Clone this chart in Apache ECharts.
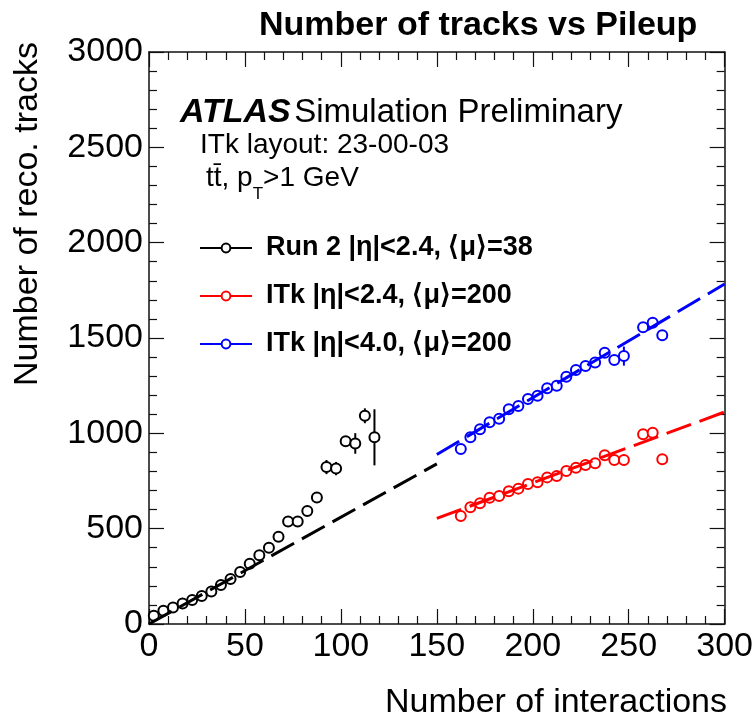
<!DOCTYPE html>
<html>
<head>
<meta charset="utf-8">
<script src="https://cdn.jsdelivr.net/npm/echarts@6/dist/echarts.min.js"></script>
<style>html,body{margin:0;padding:0;background:#fff}#chart{width:756px;height:724px}</style>
</head>
<body>
<div id="chart"></div>
<script>
// ---- data ----
const run2X = [2.5,7.5,12.5,17.5,22.5,27.5,32.5,37.5,42.5,47.5,52.5,57.5,62.5,67.5,72.5,77.5,82.5,87.5,92.5,97.5,102.5,107.5,112.5,117.5];
const run2Y = [43,70,87,108,126,147,171,205,236,273,316,360,400,458,537,537,593,664,823,815,958,947,1092,979];
const run2Err = [0,0,0,0,0,0,0,0,0,0,0,0,0,0,0,0,0,0,37,35,26,54,39,147];

const itkX = [162.5,167.5,172.5,177.5,182.5,187.5,192.5,197.5,202.5,207.5,212.5,217.5,222.5,227.5,232.5,237.5,242.5,247.5,257.5,262.5,267.5];
const itk24Y = [566,612,633,662,671,696,710,734,743,769,776,802,820,834,843,885,860,860,995,1003,864];
const itk24Err = [0,0,0,0,0,0,0,0,0,0,0,0,0,0,0,0,0,30,0,0,0];
const itk40Y = [918,979,1021,1058,1077,1126,1143,1180,1197,1236,1250,1297,1332,1353,1372,1423,1384,1405,1556,1580,1515];
const itk40Err = [0,0,0,0,0,0,0,0,0,0,0,0,0,0,0,0,0,50,0,0,0];

const fitRun2X = [0,150], fitRun2Y = [0,840];
const fitItk24X = [150,300], fitItk24Y = [554,1112];
const fitItk40X = [150,300], fitItk40Y = [889,1783];

const names = ['Run 2 |η|<2.4, ⟨μ⟩=38','ITk |η|<2.4, ⟨μ⟩=200','ITk |η|<4.0, ⟨μ⟩=200'];
const colors = ['#000000','#ff0000','#0000ff'];
const xTicks = {min:0,max:300,interval:50};
const yTicks = {min:0,max:3000,interval:500};

const FONT = 'Liberation Sans, Arial, Helvetica, sans-serif';
const zip = (a,b) => a.map((v,i)=>[v,b[i]]);
const zip3 = (a,b,c) => a.map((v,i)=>[v,b[i],c[i]]);

function pointSeries(name, xs, ys, color){
  return {name, type:'line', data: zip(xs,ys), symbol:'emptyCircle', symbolSize:10, showAllSymbol:true,
    itemStyle:{color, borderColor:color, borderWidth:1.5}, lineStyle:{color, width:2, opacity:0},
    z:3, animation:false, silent:true};
}
function errSeries(xs, ys, es, color){
  return {type:'custom', data: zip3(xs,ys,es).filter(d=>d[2]>0), z:2, animation:false, silent:true,
    renderItem:(params, api)=>{
      const p1 = api.coord([api.value(0), api.value(1)-api.value(2)]);
      const p2 = api.coord([api.value(0), api.value(1)+api.value(2)]);
      return {type:'line', shape:{x1:p1[0],y1:p1[1],x2:p2[0],y2:p2[1]}, style:{stroke:color, lineWidth:2}};
    }};
}
function fitSeries(xs, ys, color){
  return {type:'line', data: zip(xs,ys), symbol:'none', z:4, animation:false, silent:true,
    lineStyle:{color, width:3, type:[26,9]}};
}

const axisCommon = (showLabel) => ({
  axisLine:{show:true, onZero:false, lineStyle:{color:'#111', width:1.5}},
  axisTick:{show:true, inside:true, length:15, lineStyle:{color:'#111', width:1.2}},
  minorTick:{show:true, splitNumber:5, length:8, lineStyle:{color:'#111', width:1.2}},
  splitLine:{show:false}, minorSplitLine:{show:false},
  axisLabel:{show:showLabel, color:'#000', fontFamily:FONT, fontSize:34, margin:6, formatter:v=>String(v)}
});

const chart = echarts.init(document.getElementById('chart'), null, {renderer:'canvas'});
chart.setOption({
  backgroundColor:'#fff',
  animation:false,
  title:{text:'Number of tracks vs Pileup', left:254, top:4,
    textStyle:{fontFamily:FONT, fontWeight:'bold', fontSize:34, color:'#000'}},
  grid:{left:149, right:29, top:52, bottom:100, containLabel:false},
  xAxis:[
    Object.assign({type:'value', position:'bottom'}, xTicks, axisCommon(true)),
    Object.assign({type:'value', position:'top'}, xTicks, axisCommon(false))
  ],
  yAxis:[
    Object.assign({type:'value', position:'left'}, yTicks, axisCommon(true)),
    Object.assign({type:'value', position:'right'}, yTicks, axisCommon(false))
  ],
  legend:{
    orient:'vertical', left:194, top:228, itemWidth:52, itemHeight:11, itemGap:18,
    data:names, selectedMode:false,
    lineStyle:{opacity:1, width:2},
    textStyle:{fontFamily:FONT, fontWeight:'bold', fontSize:27, color:'#000', lineHeight:30, padding:[0,0,0,9]}
  },
  graphic:[
    {type:'text', left:180, top:96, style:{
      text:'{a|ATLAS} {b|Simulation Preliminary}',
      rich:{a:{fontFamily:FONT, fontWeight:'bold', fontStyle:'italic', fontSize:34, fill:'#000'},
            b:{fontFamily:FONT, fontSize:33, fill:'#000'}}}},
    {type:'text', left:200, top:131, style:{text:'ITk layout: 23-00-03', fontFamily:FONT, fontSize:28, fill:'#000'}},
    {type:'text', left:206, top:164, style:{
      text:'{n|tt\u0304, p}{s|T}{n|>1 GeV}',
      rich:{n:{fontFamily:FONT, fontSize:28, fill:'#000', verticalAlign:'top'},
            s:{fontFamily:FONT, fontSize:17, fill:'#000', padding:[22,0,0,0], verticalAlign:'top'}}}},
    {type:'text', x:28, y:214, rotation:Math.PI/2, style:{text:'Number of reco. tracks', fontFamily:FONT, fontSize:34, fill:'#000', align:'center', verticalAlign:'middle'}},
    {type:'text', right:29, top:686, style:{text:'Number of interactions', fontFamily:FONT, fontSize:34, fill:'#000'}}
  ],
  series:[
    errSeries(run2X, run2Y, run2Err, colors[0]),
    errSeries(itkX, itk24Y, itk24Err, colors[1]),
    errSeries(itkX, itk40Y, itk40Err, colors[2]),
    pointSeries(names[0], run2X, run2Y, colors[0]),
    pointSeries(names[1], itkX, itk24Y, colors[1]),
    pointSeries(names[2], itkX, itk40Y, colors[2]),
    fitSeries(fitRun2X, fitRun2Y, colors[0]),
    fitSeries(fitItk24X, fitItk24Y, colors[1]),
    fitSeries(fitItk40X, fitItk40Y, colors[2])
  ]
});
</script>
</body>
</html>
